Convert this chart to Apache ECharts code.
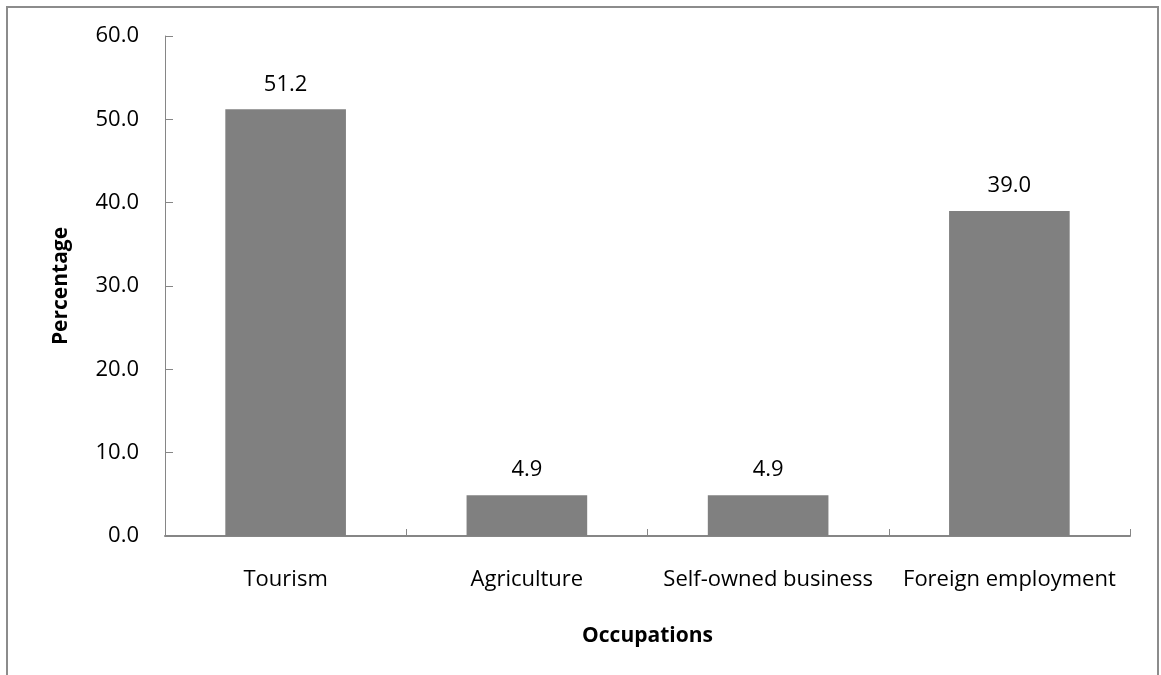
<!DOCTYPE html>
<html><head><meta charset="utf-8">
<script src="https://cdn.jsdelivr.net/npm/echarts@6/dist/echarts.min.js"></script>
<style>html,body{margin:0;padding:0;background:#fff}#c{width:1161px;height:675px}</style>
</head><body><div id="c"></div>
<script>
const categories = ["Tourism", "Agriculture", "Self-owned business", "Foreign employment"];
const values = [51.2, 4.9, 4.9, 39.0];
const yTicks = { min: 0, max: 60, interval: 10 };
const xTitle = "Occupations";
const yTitle = "Percentage";

const font = "'Open Sans', 'Liberation Sans', sans-serif";
const chart = echarts.init(document.getElementById('c'));
chart.setOption({
  animation: false,
  backgroundColor: '#fff',
  textStyle: { fontFamily: font },
  graphic: [{
    type: 'rect', shape: { x: 7, y: 7, width: 1151, height: 720 },
    style: { fill: 'none', stroke: '#8c8c8c', lineWidth: 2 }, silent: true, z: -1
  }],
  grid: { left: 165, right: 31, top: 36, bottom: 139 },
  xAxis: {
    type: 'category', data: categories,
    name: xTitle, nameLocation: 'middle', nameGap: 90,
    nameTextStyle: { fontFamily: font, fontSize: 21, fontWeight: 'bold', color: '#000' },
    axisLine: { lineStyle: { color: '#868686', width: 2 } },
    axisTick: { show: true, inside: true, length: 7, lineStyle: { color: '#868686' } },
    axisLabel: { fontFamily: font, fontSize: 22, color: '#000', margin: 33, interval: 0 }
  },
  yAxis: {
    type: 'value', min: yTicks.min, max: yTicks.max, interval: yTicks.interval,
    name: yTitle, nameLocation: 'middle', nameGap: 93, nameRotate: 90,
    nameTextStyle: { fontFamily: font, fontSize: 21, fontWeight: 'bold', color: '#000' },
    axisLine: { show: true, lineStyle: { color: '#868686', width: 1 } },
    axisTick: { show: true, inside: true, length: 8, lineStyle: { color: '#868686' } },
    splitLine: { show: false },
    axisLabel: { fontFamily: font, fontSize: 22, color: '#000', margin: 26,
      formatter: v => v.toFixed(1) }
  },
  series: [{
    type: 'bar', data: values, barWidth: '50%',
    itemStyle: { color: '#808080' },
    label: { show: true, position: 'top', distance: 14, fontFamily: font, fontSize: 22, color: '#000',
      formatter: p => p.value.toFixed(1) }
  }]
});
</script></body></html>
